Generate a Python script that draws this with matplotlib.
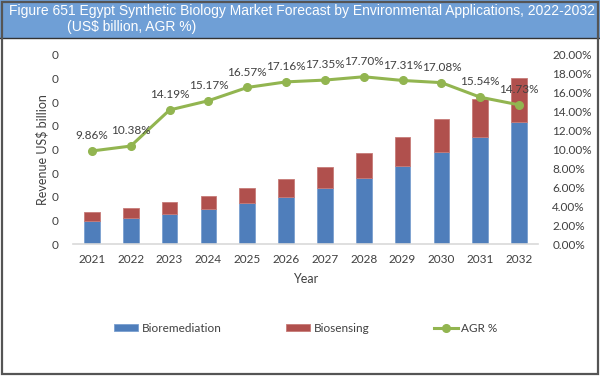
import numpy as np
import matplotlib
matplotlib.use('Agg')
import matplotlib.pyplot as plt
from matplotlib.patches import Rectangle
from matplotlib.lines import Line2D

years = ['2021', '2022', '2023', '2024', '2025', '2026', '2027', '2028', '2029', '2030', '2031', '2032']
bioremediation = [0.050, 0.056, 0.064, 0.074, 0.087, 0.101, 0.120, 0.141, 0.166, 0.195, 0.226, 0.259]
biosensing = [0.019, 0.020, 0.025, 0.028, 0.032, 0.038, 0.044, 0.052, 0.060, 0.070, 0.081, 0.092]
agr = [9.86, 10.38, 14.19, 15.17, 16.57, 17.16, 17.35, 17.70, 17.31, 17.08, 15.54, 14.73]

blue = '#4f7ebb'
red = '#b0504d'
green = '#92b550'
txt = '#404040'

plt.rcParams['font.family'] = ['Lato', 'DejaVu Sans']

fig = plt.figure(figsize=(6, 3.76), dpi=100)

# banner and frame
fig.patches.append(Rectangle((0, 1 - 37.5 / 376), 1, 37.5 / 376, transform=fig.transFigure,
                             facecolor='#6f9fd6', edgecolor='none', zorder=0))
fig.add_artist(Line2D([0, 1], [1 - 37.5 / 376] * 2, color='#333333', lw=1.0, transform=fig.transFigure))
fig.patches.append(Rectangle((1.5 / 600, 2.5 / 376), 596 / 600, 372 / 376, transform=fig.transFigure,
                             facecolor='none', edgecolor='#555555', lw=1.6, zorder=5))

fig.text(9 / 600, 1 - 11 / 376, 'Figure 651 Egypt Synthetic Biology Market Forecast by Environmental Applications, 2022-2032',
         color='white', fontsize=10, family='Liberation Sans', va='center', ha='left')
fig.text(67 / 600, 1 - 27 / 376, '(US$ billion, AGR %)',
         color='white', fontsize=10, family='Liberation Sans', va='center', ha='left')

ax = fig.add_axes([72.5 / 600, 131.7 / 376, 466 / 600, 189.3 / 376])
x = np.arange(len(years))
ax.bar(x, bioremediation, width=0.4, color=blue, edgecolor='#7a9fd0', lw=0.6, zorder=2, label='Bioremediation')
ax.bar(x, biosensing, width=0.4, bottom=bioremediation, color=red, edgecolor='#c77b78', lw=0.6, zorder=2,
       label='Biosensing')
ax.set_xlim(-0.5, len(years) - 0.5)
ax.set_ylim(0, 0.4)
ax.set_yticks(np.arange(0, 0.401, 0.05))
ax.set_yticklabels(['0'] * 9)
ax.set_xticks(x)
ax.set_xticklabels(years)
for s in ['top', 'left', 'right']:
    ax.spines[s].set_visible(False)
ax.spines['bottom'].set_color('#d9d9d9')
ax.spines['bottom'].set_linewidth(1.2)
ax.tick_params(length=0, labelsize=8.5, labelcolor=txt)
ax.tick_params(axis='y', pad=10)
ax.tick_params(axis='x', pad=7)
ax.set_ylabel('Revenue US$ billion', fontsize=9, color=txt, labelpad=2)
ax.set_xlabel('Year', fontsize=9, color=txt, labelpad=6)

ax2 = ax.twinx()
ax2.plot(x, agr, color=green, lw=2.2, marker='o', ms=5.5, zorder=3, label='AGR %')
ax2.set_ylim(0, 20)
ax2.set_yticks(np.arange(0, 20.1, 2))
ax2.set_yticklabels(['%.2f%%' % v for v in np.arange(0, 20.1, 2)])
for s in ['top', 'left', 'right', 'bottom']:
    ax2.spines[s].set_visible(False)
ax2.tick_params(length=0, labelsize=8.5, labelcolor=txt, pad=10)
for xi, v in zip(x, agr):
    ax2.annotate('%.2f%%' % v, (xi, v), xytext=(0, 11), textcoords='offset points',
                 ha='center', va='center', fontsize=8.5, color=txt)

h1, l1 = ax.get_legend_handles_labels()
h2, l2 = ax2.get_legend_handles_labels()
fig.legend(h1 + h2, l1 + l2, loc='center', bbox_to_anchor=(0.51, 1 - 328 / 376), ncol=3, frameon=False,
           fontsize=8.5, labelcolor=txt, handlelength=2.0, handleheight=0.6, handletextpad=0.3,
           columnspacing=5.5)

fig.savefig('out.png', dpi=100)
